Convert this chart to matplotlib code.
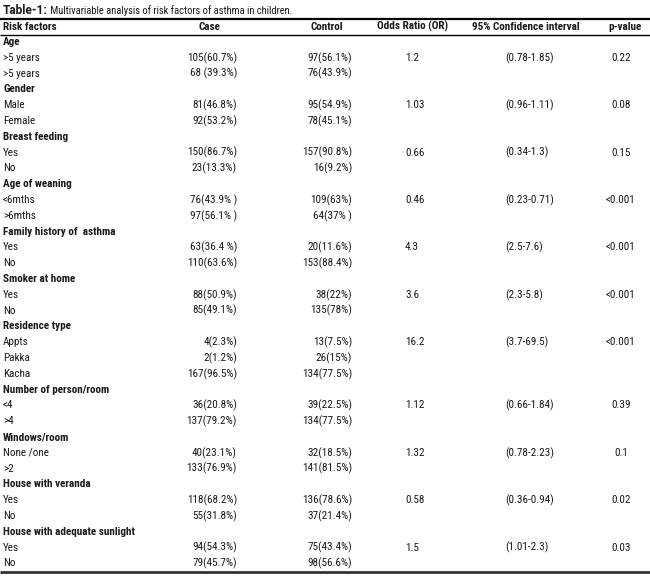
import matplotlib
matplotlib.use('Agg')
import matplotlib.pyplot as plt
from matplotlib import font_manager

title_bold = 'Table-1:'
title_rest = ' Multivariable analysis of risk factors of asthma in children.'

col_headers = ['Risk factors', 'Case', 'Control', 'Odds Ratio (OR)',
               '95% Confidence interval', 'p-value']

group_names = ['Age', 'Gender', 'Breast feeding', 'Age of weaning',
               'Family history of  asthma', 'Smoker at home', 'Residence type',
               'Number of person/room', 'Windows/room', 'House with veranda',
               'House with adequate sunlight']

sub_labels = [['>5 years', '>5 years'], ['Male', 'Female'], ['Yes', 'No'],
              ['<6mths', '>6mths'], ['Yes', 'No'], ['Yes', 'No'],
              ['Appts', 'Pakka', 'Kacha'], ['<4', '>4'], ['None /one', '>2'],
              ['Yes', 'No'], ['Yes', 'No']]

case_vals = [['105(60.7%)', '68 (39.3%)'], ['81(46.8%)', '92(53.2%)'],
             ['150(86.7%)', '23(13.3%)'], ['76(43.9% )', '97(56.1% )'],
             ['63(36.4 %)', '110(63.6%)'], ['88(50.9%)', '85(49.1%)'],
             ['4(2.3%)', '2(1.2%)', '167(96.5%)'], ['36(20.8%)', '137(79.2%)'],
             ['40(23.1%)', '133(76.9%)'], ['118(68.2%)', '55(31.8%)'],
             ['94(54.3%)', '79(45.7%)']]

control_vals = [['97(56.1%)', '76(43.9%)'], ['95(54.9%)', '78(45.1%)'],
                ['157(90.8%)', '16(9.2%)'], ['109(63%)', '64(37% )'],
                ['20(11.6%)', '153(88.4%)'], ['38(22%)', '135(78%)'],
                ['13(7.5%)', '26(15%)', '134(77.5%)'], ['39(22.5%)', '134(77.5%)'],
                ['32(18.5%)', '141(81.5%)'], ['136(78.6%)', '37(21.4%)'],
                ['75(43.4%)', '98(56.6%)']]

odds_ratio = ['1.2', '1.03', '0.66', '0.46', '4.3', '3.6', '16.2', '1.12',
              '1.32', '0.58', '1.5']
conf_int = ['(0.78-1.85)', '(0.96-1.11)', '(0.34-1.3)', '(0.23-0.71)',
            '(2.5-7.6)', '(2.3-5.8)', '(3.7-69.5)', '(0.66-1.84)',
            '(0.78-2.23)', '(0.36-0.94)', '(1.01-2.3)']
p_values = ['0.22', '0.08', '0.15', '<0.001', '<0.001', '<0.001', '<0.001',
            '0.39', '0.1', '0.02', '0.03']

# pick a narrow face if one is around, else Liberation Sans
names = {f.name for f in font_manager.fontManager.ttflist}
family = 'Liberation Sans'
for cand in ['Liberation Sans Narrow', 'Roboto Condensed', 'Open Sans Condensed']:
    if cand in names:
        family = cand
        break
plt.rcParams['font.family'] = [family, 'DejaVu Sans']
wide = ['Roboto', 'DejaVu Sans']

fig = plt.figure(figsize=(6.5, 5.8), dpi=100)
ax = fig.add_axes([0, 0, 1, 1])
ax.set_xlim(0, 650)
ax.set_ylim(580, 0)
ax.axis('off')
renderer = fig.canvas.get_renderer()


def fit_size(s, width_px, **kw):
    # font size that makes s about width_px wide
    t = ax.text(0, 0, s, fontsize=10, **kw)
    w = t.get_window_extent(renderer).width
    t.remove()
    return 10 * width_px / w


title_size = min(fit_size(title_rest.strip(), 246), 7.6)
tbold_size = min(fit_size(title_bold, 50, fontweight='bold', family=wide), 8.6)
body = min(fit_size('157(90.8%)', 50), 8.0)
head = min(fit_size(col_headers[4], 108, fontweight='bold'), 8.0)

txt = '#1a1a1a'

# title
t1 = ax.text(3, 10.5, title_bold, fontsize=tbold_size, fontweight='bold',
             family=wide, va='center', color=txt)
ax.annotate(title_rest, xy=(1, 0.5), xycoords=t1, va='center', fontsize=title_size, color=txt)

ax.plot([0, 650], [18.5, 18.5], color='black', lw=1.6, solid_capstyle='butt')
ax.plot([0, 650], [34.5, 34.5], color='black', lw=1.0, solid_capstyle='butt')

# header row
hy = 26.5
ax.text(3, hy, col_headers[0], fontsize=head, fontweight='bold', va='center', color=txt)
for x, h in zip([209, 327, 413, 526, 625], col_headers[1:]):
    ax.text(x, hy, h, fontsize=head, fontweight='bold', va='center', ha='center', color=txt)

# body rows
y = 42
step = 15.8
for g in range(len(group_names)):
    ax.text(3, y, group_names[g], fontsize=head, fontweight='bold', va='center', color=txt)
    y += step
    for i, lab in enumerate(sub_labels[g]):
        ax.text(3, y, lab, fontsize=body, va='center', color=txt)
        ax.text(237, y, case_vals[g][i], fontsize=body, va='center', ha='right', color=txt)
        ax.text(352, y, control_vals[g][i], fontsize=body, va='center', ha='right', color=txt)
        if i == 0:
            ax.text(405, y, odds_ratio[g], fontsize=body, va='center', color=txt)
            ax.text(505, y, conf_int[g], fontsize=body, va='center', color=txt)
            ax.text(621, y, p_values[g], fontsize=body, va='center', ha='center', color=txt)
        y += step

ax.plot([0, 650], [572, 572], color='#333333', lw=2.0, solid_capstyle='butt')

fig.savefig('out.png', dpi=100)
